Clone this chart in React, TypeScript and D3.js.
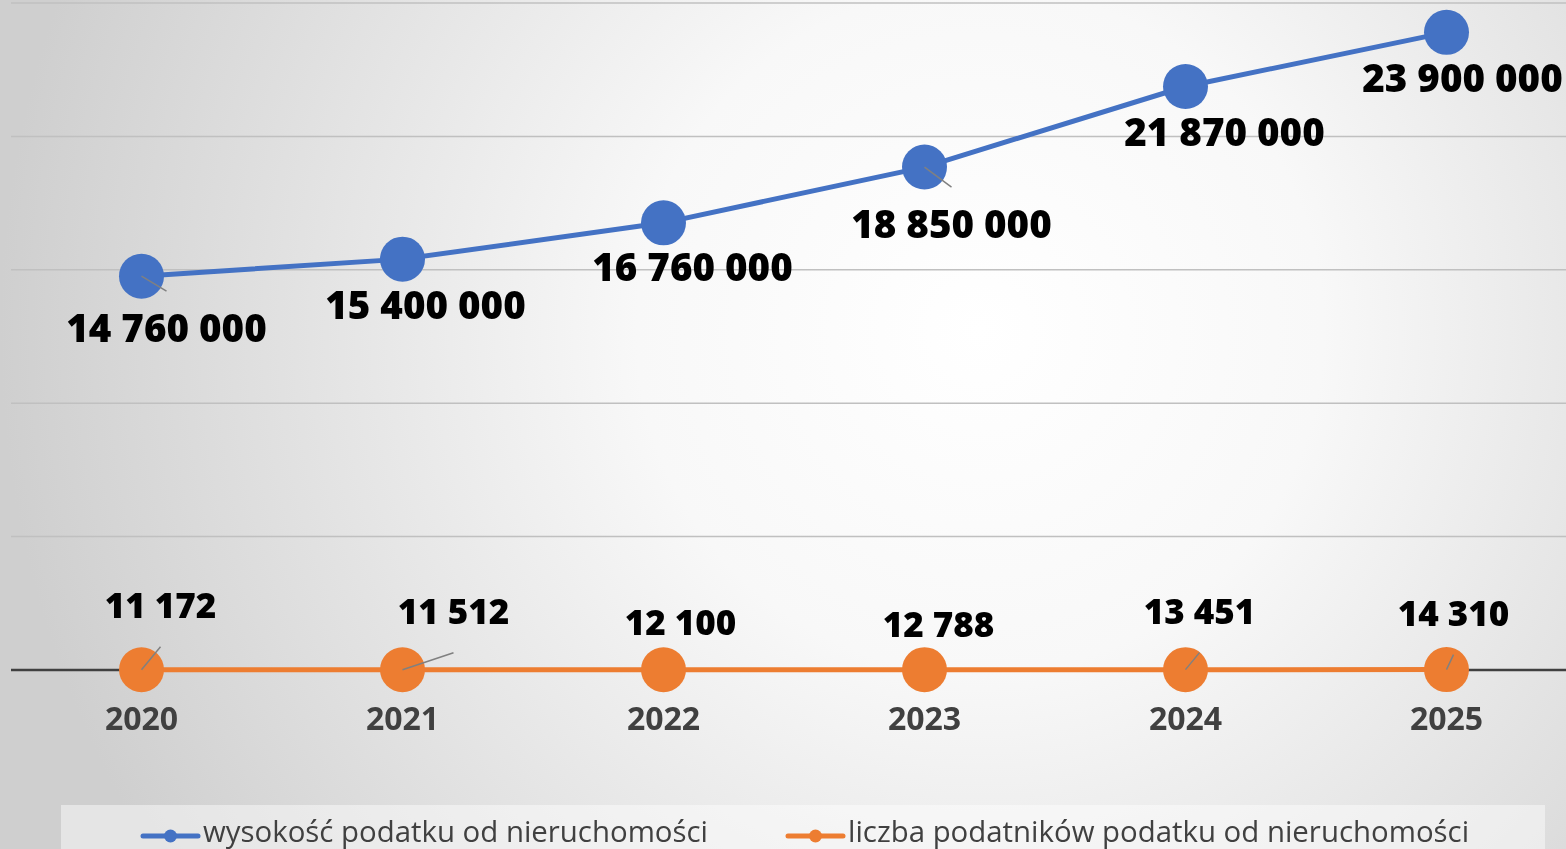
import React from "react";
import * as d3 from "d3";

// chart values
const years = ["2020", "2021", "2022", "2023", "2024", "2025"];
const taxAmount = [14760000, 15400000, 16760000, 18850000, 21870000, 23900000];
const taxpayers = [11172, 11512, 12100, 12788, 13451, 14310];
const seriesNames = [
  "wysokość podatku od nieruchomości",
  "liczba podatników podatku od nieruchomości",
];
const gridTicks = [0, 5000000, 10000000, 15000000, 20000000, 25000000];

// label placement (dx, dy from the point) and leader lines
const taxLabelOffsets = [[25, 51], [23, 45], [29, 43], [27, 56], [39, 44], [16, 45]];
const payerLabelOffsets = [[19, -65], [51, -59], [17, -48], [14, -46], [14, -59], [7, -57]];
const taxLeader = [true, false, false, true, false, false];
const payerLeader = [true, true, false, false, true, true];

const W = 1566;
const H = 849;
const BLUE = "#4472C4";
const ORANGE = "#ED7D31";
const FONT = "'Open Sans', 'Noto Sans', sans-serif";

const fmt = d3
  .formatLocale({ thousands: " ", grouping: [3], decimal: ",", currency: ["", ""] })
  .format(",d");

export default function App() {
  const margin = { top: 3, left: 11, bottom: 179 };
  const x = d3
    .scaleBand()
    .domain(years)
    .range([margin.left, margin.left + 261 * years.length]);
  const cx = (yr: string) => (x(yr) as number) + x.bandwidth() / 2;
  const y = d3.scaleLinear().domain([0, 25000000]).range([H - margin.bottom, margin.top]);

  const line = d3
    .line<number>()
    .x((d, i) => cx(years[i]))
    .y((d) => y(d));

  const series = [
    { values: taxAmount, color: BLUE, offsets: taxLabelOffsets, leader: taxLeader, below: true, size: 38.5 },
    { values: taxpayers, color: ORANGE, offsets: payerLabelOffsets, leader: payerLeader, below: false, size: 35 },
  ];

  return (
    <div style={{ position: "fixed", left: 0, top: 0 }}>
      <svg width={W} height={H} style={{ display: "block" }}>
        <defs>
          <radialGradient id="bg" gradientUnits="userSpaceOnUse" cx={980} cy={330} r={980}>
            <stop offset="0" stopColor="#ffffff" />
            <stop offset="0.35" stopColor="#f8f8f8" />
            <stop offset="1" stopColor="#cfcfcf" />
          </radialGradient>
        </defs>
        <rect x={0} y={0} width={W} height={H} fill="url(#bg)" />

        {gridTicks.slice(1).map((t) => (
          <line key={t} x1={margin.left} x2={W} y1={y(t)} y2={y(t)} stroke="#c0c0c0" strokeWidth={1.5} />
        ))}
        <line x1={margin.left} x2={W} y1={y(0)} y2={y(0)} stroke="#404040" strokeWidth={2.5} />

        {years.map((yr) => (
          <text
            key={yr}
            x={cx(yr)}
            y={y(0) + 47}
            textAnchor="middle"
            dominantBaseline="central"
            fontFamily={FONT}
            fontWeight={700}
            fontSize={32}
            fill="#404040"
          >
            {yr}
          </text>
        ))}

        {series.map((s, si) => (
          <g key={si}>
            <path d={line(s.values) as string} fill="none" stroke={s.color} strokeWidth={5} />
            {s.values.map((v, i) => (
              <circle key={i} cx={cx(years[i])} cy={y(v)} r={22.5} fill={s.color} />
            ))}
            {s.values.map((v, i) => {
              if (!s.leader[i]) return null;
              const px = cx(years[i]);
              const py = y(v);
              const lx = px + s.offsets[i][0];
              const ly = py + s.offsets[i][1] + (s.below ? -36 : 42);
              return <line key={"l" + i} x1={px} y1={py} x2={lx} y2={ly} stroke="#808080" strokeWidth={1.5} />;
            })}
            {s.values.map((v, i) => (
              <text
                key={"t" + i}
                x={cx(years[i]) + s.offsets[i][0]}
                y={y(v) + s.offsets[i][1]}
                textAnchor="middle"
                dominantBaseline="central"
                fontFamily={FONT}
                fontWeight={800}
                fontSize={s.size}
                fill="#000000"
              >
                {fmt(v)}
              </text>
            ))}
          </g>
        ))}

        {/* legend */}
        <rect x={61} y={805} width={1484} height={60} fill="#ffffff" fillOpacity={0.45} />
        {seriesNames.map((name, i) => {
          const lx = i === 0 ? 143 : 788;
          const col = i === 0 ? BLUE : ORANGE;
          return (
            <g key={name}>
              <line x1={lx} x2={lx + 55} y1={836} y2={836} stroke={col} strokeWidth={5} strokeLinecap="round" />
              <circle cx={lx + 27.5} cy={836} r={6.5} fill={col} />
              <text
                x={lx + 60}
                y={831}
                dominantBaseline="central"
                fontFamily={FONT}
                fontSize={29.4}
                fill="#404040"
              >
                {name}
              </text>
            </g>
          );
        })}
      </svg>
    </div>
  );
}
